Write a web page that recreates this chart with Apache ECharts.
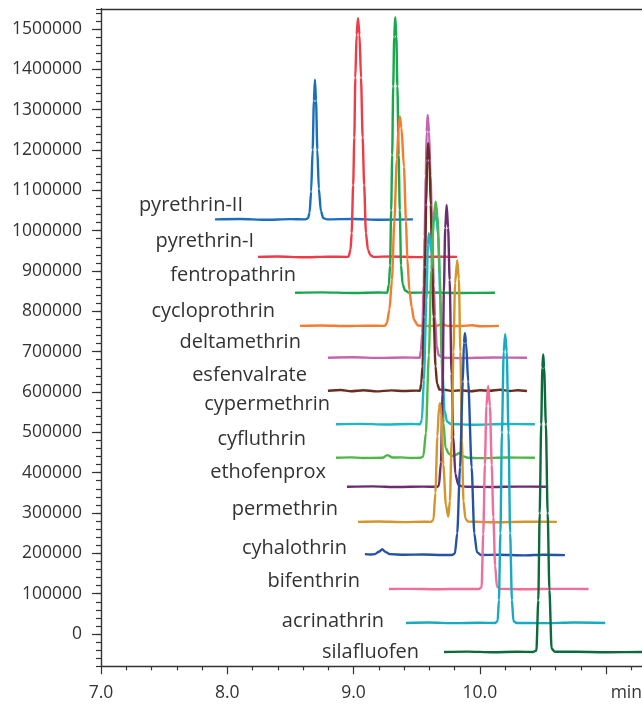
<!DOCTYPE html>
<html>
<head>
<meta charset="utf-8">
<script src="https://cdn.jsdelivr.net/npm/echarts@6/dist/echarts.min.js"></script>
<style>
  html, body { margin: 0; padding: 0; background: #ffffff; }
  #chart { width: 642px; height: 705px; }
</style>
</head>
<body>
<div id="chart"></div>
<script>
// Compound names, top trace first
const compoundNames = [
  'pyrethrin-II', 'pyrethrin-I', 'fentropathrin', 'cycloprothrin', 'deltamethrin',
  'esfenvalrate', 'cypermethrin', 'cyfluthrin', 'ethofenprox', 'permethrin',
  'cyhalothrin', 'bifenthrin', 'acrinathrin', 'silafluofen'
];

// Axis tick labels
const xTickValues = [7, 8, 9, 10];
const xUnitLabel = 'min';
const xUnitPosition = 11.16;
const yTickValues = [0, 100000, 200000, 300000, 400000, 500000, 600000, 700000,
  800000, 900000, 1000000, 1100000, 1200000, 1300000, 1400000, 1500000];

// Offset chromatogram traces: [retention time (min), intensity]
const pyrethrinII = [[7.903,1028000],[8.10,1029000],[8.30,1027000],[8.50,1028500],[8.62,1028000],[8.640,1031000],[8.652,1045000],[8.664,1097000],[8.676,1201000],[8.686,1322000],[8.694,1374000],[8.703,1322000],[8.713,1201000],[8.725,1104000],[8.741,1049000],[8.760,1031000],[8.790,1028000],[9.00,1029000],[9.20,1027000],[9.470,1028000]];
const pyrethrinI = [[8.243,935000],[8.40,936000],[8.60,934000],[8.80,935500],[8.95,935000],[8.960,935500],[8.976,953000],[8.985,994000],[8.997,1113000],[9.006,1231000],[9.014,1379000],[9.024,1486000],[9.035,1527000],[9.047,1486000],[9.059,1379000],[9.072,1231000],[9.084,1113000],[9.098,994000],[9.114,953000],[9.133,939000],[9.158,935000],[9.30,936000],[9.50,934500],[9.65,935500],[9.819,935000]];
const fentropathrin = [[8.536,846000],[8.75,847000],[9.00,845500],[9.20,846500],[9.267,846000],[9.280,866500],[9.289,914000],[9.298,1051000],[9.306,1188000],[9.314,1358000],[9.322,1481000],[9.330,1529000],[9.339,1481000],[9.347,1358000],[9.357,1188000],[9.366,1051000],[9.376,914000],[9.389,866500],[9.409,851500],[9.441,846000],[9.60,846500],[9.85,845500],[10.120,846000]];
const cycloprothrin = [[8.576,764000],[8.75,765000],[8.95,763500],[9.10,764500],[9.248,764000],[9.264,771000],[9.284,804000],[9.304,878000],[9.323,1024000],[9.343,1176000],[9.355,1250000],[9.367,1283000],[9.379,1255000],[9.399,1158000],[9.415,1024000],[9.426,930000],[9.442,852000],[9.460,811000],[9.478,779000],[9.510,765000],[9.55,763500],[9.66,764000],[9.70,768500],[9.74,764000],[9.85,763500],[9.94,765500],[10.00,763000],[10.151,764000]];
const deltamethrin = [[8.797,685000],[9.00,686000],[9.20,684500],[9.40,685500],[9.525,685000],[9.533,703000],[9.544,745000],[9.556,866000],[9.563,986000],[9.572,1136000],[9.579,1245000],[9.587,1287000],[9.598,1245000],[9.609,1136000],[9.624,986000],[9.635,866000],[9.645,787000],[9.658,715000],[9.674,691000],[9.707,685000],[9.85,684000],[10.10,685500],[10.373,685000]];
const esfenvalrate = [[8.797,603000],[8.90,605000],[8.98,602000],[9.08,604500],[9.18,601500],[9.30,604000],[9.40,602500],[9.50,603500],[9.526,603000],[9.536,621000],[9.546,664000],[9.558,787000],[9.566,910000],[9.575,1064000],[9.583,1174000],[9.591,1217000],[9.601,1174000],[9.611,1064000],[9.623,910000],[9.634,787000],[9.649,664000],[9.661,621000],[9.681,606000],[9.72,605500],[9.78,602500],[9.85,604500],[9.93,602000],[10.00,604500],[10.08,603000],[10.16,605500],[10.24,602500],[10.30,604500],[10.373,602500]];
const cypermethrin = [[8.861,520000],[9.05,521000],[9.25,519500],[9.45,520500],[9.526,520000],[9.541,530500],[9.557,630000],[9.577,828000],[9.589,965000],[9.596,994000],[9.616,948000],[9.635,1022000],[9.652,1043000],[9.670,989000],[9.688,828000],[9.704,655000],[9.720,555000],[9.740,527000],[9.771,520500],[9.95,519000],[10.2,520500],[10.436,520000]];
const cyfluthrin = [[8.861,437000],[8.98,438000],[9.07,436500],[9.23,437000],[9.267,443500],[9.31,437500],[9.37,438000],[9.45,436500],[9.534,437000],[9.553,441000],[9.573,499000],[9.596,691000],[9.616,902000],[9.635,1036000],[9.650,1072000],[9.665,1036000],[9.683,888000],[9.698,681000],[9.712,523000],[9.728,462000],[9.755,447000],[9.787,441000],[9.815,445000],[9.837,449000],[9.862,441000],[9.906,437000],[10.0,436000],[10.2,437500],[10.436,437000]];
const ethofenprox = [[8.948,365000],[9.15,366000],[9.35,364500],[9.55,365500],[9.660,365000],[9.676,368000],[9.692,426000],[9.705,595000],[9.715,848000],[9.726,1007000],[9.737,1064000],[9.749,1007000],[9.761,878000],[9.776,645000],[9.790,489000],[9.806,397000],[9.829,370000],[9.858,366000],[9.906,365000],[10.1,364500],[10.3,365500],[10.523,365000]];
const permethrin = [[9.035,278000],[9.20,279000],[9.40,277500],[9.55,278500],[9.613,278000],[9.633,283000],[9.648,350000],[9.664,490000],[9.676,560000],[9.685,572000],[9.695,545000],[9.711,420000],[9.731,320000],[9.750,291000],[9.763,330000],[9.777,480000],[9.791,700000],[9.804,870000],[9.821,927000],[9.834,880000],[9.846,700000],[9.858,480000],[9.870,330000],[9.886,286000],[9.906,279000],[10.1,277000],[10.35,278500],[10.610,278000]];
const cyhalothrin = [[9.090,198000],[9.13,197000],[9.17,198000],[9.200,204000],[9.227,210000],[9.255,203000],[9.29,198000],[9.40,196500],[9.55,197000],[9.70,196000],[9.779,196000],[9.803,200000],[9.821,250000],[9.843,413000],[9.865,625000],[9.874,722000],[9.882,746000],[9.891,722000],[9.908,625000],[9.935,413000],[9.956,250000],[9.977,203000],[10.009,196000],[10.15,196500],[10.35,195000],[10.50,196500],[10.674,195500]];
const bifenthrin = [[9.280,111500],[9.45,112000],[9.65,111000],[9.85,112000],[9.993,111500],[10.014,116000],[10.027,248000],[10.040,420000],[10.052,565000],[10.066,615000],[10.080,565000],[10.094,420000],[10.107,290000],[10.121,170000],[10.135,118000],[10.159,112000],[10.35,111000],[10.6,112000],[10.861,111500]];
const acrinathrin = [[9.415,27500],[9.60,28500],[9.80,27000],[10.0,28000],[10.120,27500],[10.141,32000],[10.151,84000],[10.163,250000],[10.175,500000],[10.189,700000],[10.201,743000],[10.213,700000],[10.227,500000],[10.240,250000],[10.254,84000],[10.266,32000],[10.290,27500],[10.5,27000],[10.75,28500],[10.993,27500]];
const silafluofen = [[9.716,-44500],[9.90,-43500],[10.10,-45000],[10.30,-44000],[10.421,-44500],[10.448,-41000],[10.463,84000],[10.474,300000],[10.486,520000],[10.495,660000],[10.502,693000],[10.509,660000],[10.523,520000],[10.537,300000],[10.551,110000],[10.568,-36000],[10.595,-44000],[10.75,-44000],[11.0,-45000],[11.30,-44500]];

const traces = [pyrethrinII, pyrethrinI, fentropathrin, cycloprothrin, deltamethrin,
  esfenvalrate, cypermethrin, cyfluthrin, ethofenprox, permethrin,
  cyhalothrin, bifenthrin, acrinathrin, silafluofen];

// Styling
const traceColors = ['#1b6fb8', '#ee3b45', '#17a84b', '#f57b2e', '#c565b2', '#6a2e1f', '#1bb8ca',
  '#4db848', '#6b2d70', '#d4962b', '#2453a6', '#f06e98', '#17aac3', '#0b6b3b'];
// Pixel offset of each name label from the start of its trace
const labelOffsets = [[28, -14], [-4, -16], [1, -17], [-25, -15], [-27, -15], [-21, -15], [-6, -20],
  [-30, -18], [-21, -15], [-20, -13], [-18, -6], [-29, -8], [-22, -2], [-25, 0]];

const FONT = '"Open Sans", "Noto Sans", sans-serif';
const AXIS_COLOR = '#333333';
const TEXT_COLOR = '#333333';

const X_MIN = 7, X_MAX = 11.3;
const Y_MIN = -80000, Y_MAX = 1550000;

const chart = echarts.init(document.getElementById('chart'), null, { renderer: 'canvas' });

// One line per compound; only the first point carries a (zero-size) symbol for the name label
const series = traces.map((pts, i) => ({
  type: 'line',
  name: compoundNames[i],
  xAxisIndex: 0,
  yAxisIndex: 0,
  data: pts.map((p, j) => j === 0
    ? {
        value: p, symbol: 'circle', symbolSize: 0,
        label: { show: true, formatter: compoundNames[i], offset: labelOffsets[i] }
      }
    : p),
  showSymbol: true,
  symbol: 'none',
  smooth: 0.25,
  smoothMonotone: 'x',
  silent: true,
  lineStyle: { color: traceColors[i], width: 2.4 },
  itemStyle: { color: traceColors[i], borderWidth: 0 },
  label: {
    show: false,
    position: 'left',
    distance: 0,
    fontSize: 20,
    fontFamily: FONT,
    color: TEXT_COLOR
  },
  z: 2 + i
}));

chart.setOption({
  animation: false,
  backgroundColor: '#ffffff',
  grid: { left: 101, top: 8.8, width: 543, height: 657.5, containLabel: false, outerBoundsMode: 'none' },
  xAxis: [
    {
      type: 'value', position: 'bottom', min: X_MIN, max: X_MAX, interval: 1,
      axisLine: { show: true, onZero: false, lineStyle: { color: AXIS_COLOR, width: 1.4 } },
      axisTick: { show: true, length: 8, lineStyle: { color: AXIS_COLOR, width: 1.2 } },
      minorTick: { show: true, splitNumber: 5, length: 4, lineStyle: { color: AXIS_COLOR, width: 1.2 } },
      splitLine: { show: false },
      axisLabel: {
        show: true,
        customValues: xTickValues.concat([xUnitPosition]),
        margin: 18,
        fontSize: 17.5, fontFamily: FONT, color: TEXT_COLOR,
        formatter: v => (Math.abs(v - xUnitPosition) < 1e-6 ? xUnitLabel : v.toFixed(1))
      }
    },
    {
      type: 'value', position: 'top', min: X_MIN, max: X_MAX,
      axisLine: { show: true, onZero: false, lineStyle: { color: AXIS_COLOR, width: 1.4 } },
      axisTick: { show: false }, axisLabel: { show: false }, splitLine: { show: false }
    }
  ],
  yAxis: [
    {
      type: 'value', position: 'left', min: Y_MIN, max: Y_MAX, interval: 20000,
      axisLine: { show: true, onZero: false, lineStyle: { color: AXIS_COLOR, width: 1.4 } },
      axisTick: { show: true, length: 5, lineStyle: { color: AXIS_COLOR, width: 1.2 } },
      axisLabel: { show: false },
      splitLine: { show: false }
    },
    {
      type: 'value', position: 'left', min: Y_MIN, max: Y_MAX,
      axisLine: { show: false, onZero: false },
      axisTick: { show: true, customValues: yTickValues, length: 9, lineStyle: { color: AXIS_COLOR, width: 1.2 } },
      axisLabel: {
        show: true, customValues: yTickValues, margin: 19,
        fontSize: 17.5, fontFamily: FONT, color: TEXT_COLOR,
        formatter: v => String(v)
      },
      splitLine: { show: false }
    }
  ],
  series: series
});
</script>
</body>
</html>
